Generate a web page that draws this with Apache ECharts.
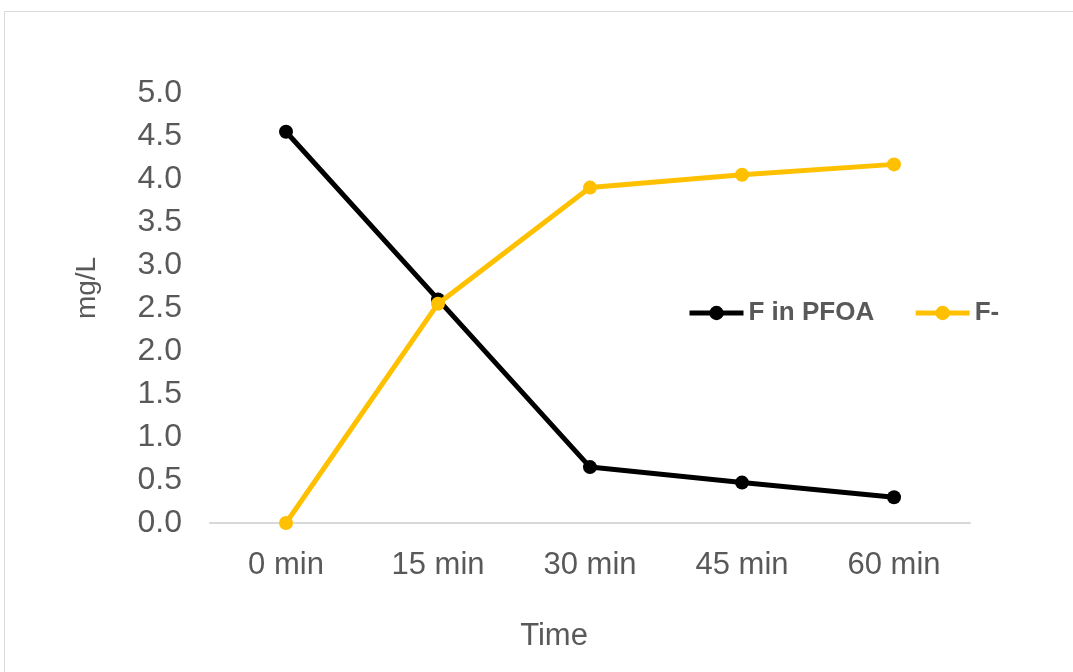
<!DOCTYPE html>
<html>
<head>
<meta charset="utf-8">
<script src="https://cdn.jsdelivr.net/npm/echarts@6/dist/echarts.min.js"></script>
<style>
  html, body { margin: 0; padding: 0; background: #ffffff; }
  #chart { width: 1073px; height: 672px; }
</style>
</head>
<body>
<div id="chart"></div>
<script>
// Sampling times and measured fluorine concentrations (mg/L)
const categories = ['0 min', '15 min', '30 min', '45 min', '60 min'];
const fInPFOA = [4.55, 2.6, 0.65, 0.47, 0.3];
const fluoride = [0, 2.55, 3.9, 4.05, 4.17];
const seriesNames = ['F in PFOA', 'F-'];
const xTitle = 'Time';
const yTitle = 'mg/L';

const textColor = '#595959';
const fontFamily = '"Liberation Sans", Arial, sans-serif';

const chart = echarts.init(document.getElementById('chart'), null, { renderer: 'canvas' });

chart.setOption({
  animation: false,
  backgroundColor: '#ffffff',
  graphic: [
    {
      type: 'rect',
      shape: { x: 4.5, y: 11.5, width: 1100, height: 700 },
      style: { fill: 'none', stroke: '#d9d9d9', lineWidth: 1 },
      silent: true
    },
    {
      type: 'text',
      x: 554, y: 636,
      style: {
        text: xTitle, fill: textColor, fontSize: 31, fontFamily: fontFamily,
        align: 'center', verticalAlign: 'middle'
      },
      silent: true
    },
    {
      type: 'text',
      x: 87, y: 288,
      rotation: Math.PI / 2,
      style: {
        text: yTitle, fill: textColor, fontSize: 28, fontFamily: fontFamily,
        align: 'center', verticalAlign: 'middle'
      },
      silent: true
    }
  ],
  grid: { left: 210, right: 103, top: 93, bottom: 149, containLabel: false },
  legend: {
    left: 682,
    top: 295,
    itemWidth: 54,
    itemHeight: 18,
    itemGap: 39,
    itemStyle: { borderWidth: 0 },
    lineStyle: { width: 5 },
    textStyle: { color: textColor, fontSize: 26, fontWeight: 'bold', fontFamily: fontFamily },
    data: seriesNames
  },
  xAxis: {
    type: 'category',
    data: categories,
    boundaryGap: true,
    axisLine: { show: true, lineStyle: { color: '#d9d9d9', width: 2 } },
    axisTick: { show: false },
    axisLabel: { color: textColor, fontSize: 31, fontFamily: fontFamily, margin: 27 },
    splitLine: { show: false }
  },
  yAxis: {
    type: 'value',
    min: 0,
    max: 5,
    interval: 0.5,
    axisLine: { show: false },
    axisTick: { show: false },
    splitLine: { show: false },
    axisLabel: {
      color: textColor, fontSize: 32, fontFamily: fontFamily, margin: 28,
      formatter: v => v.toFixed(1)
    }
  },
  series: [
    {
      name: seriesNames[0],
      type: 'line',
      data: fInPFOA,
      symbol: 'circle',
      symbolSize: 14,
      lineStyle: { color: '#000000', width: 5 },
      itemStyle: { color: '#000000' },
      z: 2
    },
    {
      name: seriesNames[1],
      type: 'line',
      data: fluoride,
      symbol: 'circle',
      symbolSize: 14,
      lineStyle: { color: '#ffc000', width: 5 },
      itemStyle: { color: '#ffc000' },
      z: 3
    }
  ]
});
</script>
</body>
</html>
